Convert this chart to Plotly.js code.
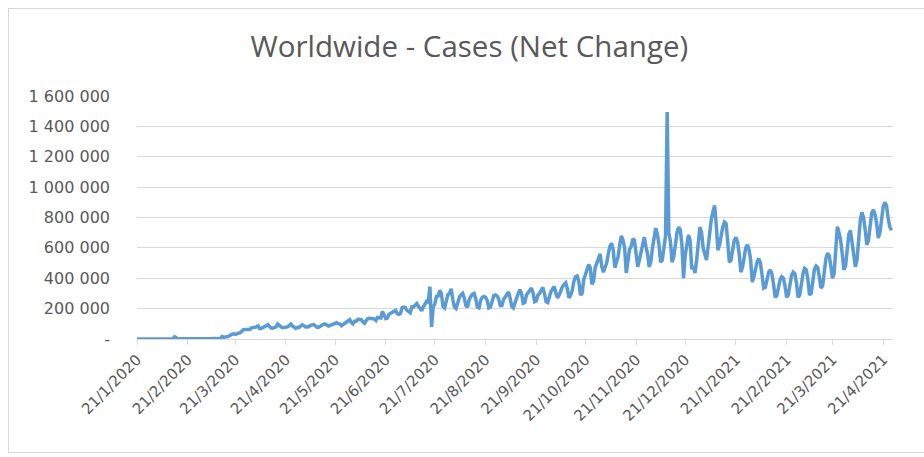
<!DOCTYPE html>
<html>
<head>
<meta charset="utf-8">
<script src="https://cdn.plot.ly/plotly-3.0.1.min.js"></script>
<style>
  html, body { margin: 0; padding: 0; background: #ffffff; }
  #wrap { position: relative; width: 924px; height: 457px; overflow: hidden; }
  #chart { width: 924px; height: 457px; }
  #frame { position: absolute; left: 8px; top: 8px; width: 940px; height: 443px;
           border: 1px solid #d9d9d9; pointer-events: none; }
</style>
</head>
<body>
<div id="wrap"><div id="chart"></div><div id="frame"></div></div>
<script>
// Daily net change in worldwide cases, in thousands, starting 21/1/2020
const startDate = '2020-01-21';
const jan2020 = [0, 0, 0.1, 0.29, 0.49, 0.68, 0.81, 2.6, 0.59, 2.07, 1.69];
const feb2020 = [2.11, 2.61, 2.82, 3.24, 3.9, 3.7, 3.16, 3.42, 2.62, 2.99, 2.53, 2.04, 15.14, 6.52, 2.14, 2.18, 2.04, 1.86, 0.54, 0.64, 1.03, 1.58, 0.5, 0.56, 0.95, 0.96, 1.38, 1.37, 1.79];
const mar2020 = [1.88, 1.77, 2.37, 2.2, 2.74, 4.0, 3.77, 4.06, 3.54, 4.61, 7.27, 2.35, 16.4, 10.9, 13.6, 14.5, 17.5, 25.4, 30.0, 33.6, 30.3, 33.2, 40.4, 41.6, 49.1, 61.7, 62.6, 62.4, 58.8, 62.7, 73.4];
const apr2020 = [74, 80, 80, 86, 68, 70, 73, 82, 87, 95, 83, 72, 71, 74, 80, 99, 88, 80, 74, 75, 76, 80, 87, 98, 86, 74, 70, 77, 75, 85];
const may2020 = [93, 88, 79, 79, 80, 90, 92, 95, 87, 77, 77, 84, 87, 97, 98, 94, 85, 90, 95, 102, 105, 107, 101, 98, 88, 96, 105, 117, 121, 128, 110];
const jun2020 = [100, 117, 117, 129, 126, 128, 113, 104, 120, 134, 136, 137, 134, 132, 122, 142, 141, 138, 181, 158, 134, 138, 163, 169, 177, 186, 188, 167, 163, 168];
const jul2020 = [207, 210, 206, 189, 179, 173, 212, 211, 222, 233, 216, 198, 186, 212, 229, 248, 243, 345, 80, 209, 231, 280, 283, 320, 300, 215, 205, 245, 292, 300, 330];
const aug2020 = [260, 210, 200, 245, 275, 290, 300, 270, 220, 210, 260, 280, 295, 300, 265, 210, 205, 255, 275, 280, 275, 255, 205, 210, 255, 285, 290, 285, 265, 220, 220];
const sep2020 = [260, 275, 290, 310, 270, 215, 205, 240, 280, 300, 325, 300, 235, 240, 290, 305, 315, 335, 305, 245, 250, 290, 300, 320, 340, 300, 245, 240, 290, 315];
const oct2020 = [330, 345, 300, 270, 290, 320, 345, 360, 370, 330, 270, 290, 320, 380, 410, 415, 380, 290, 300, 390, 420, 460, 490, 470, 360, 380, 470, 500, 540, 560, 480];
const nov2020 = [440, 470, 500, 560, 610, 630, 590, 470, 500, 540, 620, 680, 650, 600, 435, 500, 590, 610, 660, 650, 580, 475, 520, 580, 620, 670, 610, 560, 475, 510];
const dec2020 = [600, 660, 730, 690, 620, 505, 520, 600, 680, 1495, 700, 640, 505, 540, 640, 700, 737, 720, 620, 400, 550, 640, 684, 650, 460, 480, 434, 520, 640, 737, 700];
const jan2021 = [600, 560, 520, 605, 720, 790, 840, 880, 750, 585, 620, 700, 740, 770, 760, 640, 505, 520, 600, 650, 670, 640, 560, 440, 470, 540, 600, 620, 590, 520, 375];
const feb2021 = [410, 470, 510, 530, 500, 420, 335, 340, 400, 440, 455, 430, 360, 275, 285, 340, 390, 410, 400, 350, 275, 290, 370, 420, 440, 430, 370, 275];
const mar2021 = [290, 370, 430, 465, 455, 390, 290, 300, 400, 460, 480, 470, 410, 335, 350, 440, 530, 565, 550, 480, 400, 430, 560, 740, 700, 650, 560, 455, 480, 600, 690];
const apr2021 = [715, 640, 560, 475, 520, 650, 780, 835, 800, 720, 620, 650, 760, 830, 850, 820, 760, 665, 700, 800, 870, 900, 880, 800, 740, 715];

const xTickVals = ['2020-01-21','2020-02-21','2020-03-21','2020-04-21','2020-05-21','2020-06-21','2020-07-21','2020-08-21','2020-09-21','2020-10-21','2020-11-21','2020-12-21','2021-01-21','2021-02-21','2021-03-21','2021-04-21'];
const xTickText = ['21/1/2020','21/2/2020','21/3/2020','21/4/2020','21/5/2020','21/6/2020','21/7/2020','21/8/2020','21/9/2020','21/10/2020','21/11/2020','21/12/2020','21/1/2021','21/2/2021','21/3/2021','21/4/2021'];
const yTickVals = [0, 200, 400, 600, 800, 1000, 1200, 1400, 1600];
const yTickText = ['-', '200\u00a0000', '400\u00a0000', '600\u00a0000', '800\u00a0000', '1\u00a0000\u00a0000', '1\u00a0200\u00a0000', '1\u00a0400\u00a0000', '1\u00a0600\u00a0000'];

const cases = [].concat(jan2020, feb2020, mar2020, apr2020, may2020, jun2020, jul2020, aug2020, sep2020, oct2020, nov2020, dec2020, jan2021, feb2021, mar2021, apr2021);

const trace = {
  type: 'scatter',
  mode: 'lines',
  x0: startDate,
  dx: 86400000,
  y: cases,
  line: { color: '#5B9BD5', width: 3.5 },
  hoverinfo: 'skip'
};

const layout = {
  width: 924,
  height: 457,
  margin: { l: 137, r: 31, t: 96, b: 118 },
  paper_bgcolor: '#ffffff',
  plot_bgcolor: '#ffffff',
  showlegend: false,
  title: {
    text: 'Worldwide - Cases (Net Change)',
    font: { family: 'Open Sans', size: 29.5, color: '#595959' },
    x: 0.508, xref: 'container', xanchor: 'center',
    y: 0.897, yref: 'container', yanchor: 'middle'
  },
  xaxis: {
    type: 'date',
    range: ['2020-01-21', '2021-04-27'],
    tickmode: 'array',
    tickvals: xTickVals,
    ticktext: xTickText,
    tickangle: -45,
    tickfont: { family: 'DejaVu Sans', size: 15, color: '#595959' },
    showgrid: false,
    zeroline: false,
    showline: true,
    linecolor: '#d9d9d9',
    linewidth: 1,
    ticks: 'outside',
    ticklen: 5,
    tickcolor: '#d9d9d9'
  },
  yaxis: {
    range: [0, 1600],
    tickmode: 'array',
    tickvals: yTickVals,
    ticktext: yTickText,
    tickfont: { family: 'DejaVu Sans', size: 16, color: '#595959' },
    showgrid: true,
    gridcolor: '#d9d9d9',
    gridwidth: 1,
    zeroline: false,
    showline: false,
    ticks: '',
    ticklabelstandoff: 26
  }
};

Plotly.newPlot('chart', [trace], layout, { displayModeBar: false, staticPlot: true });
</script>
</body>
</html>
